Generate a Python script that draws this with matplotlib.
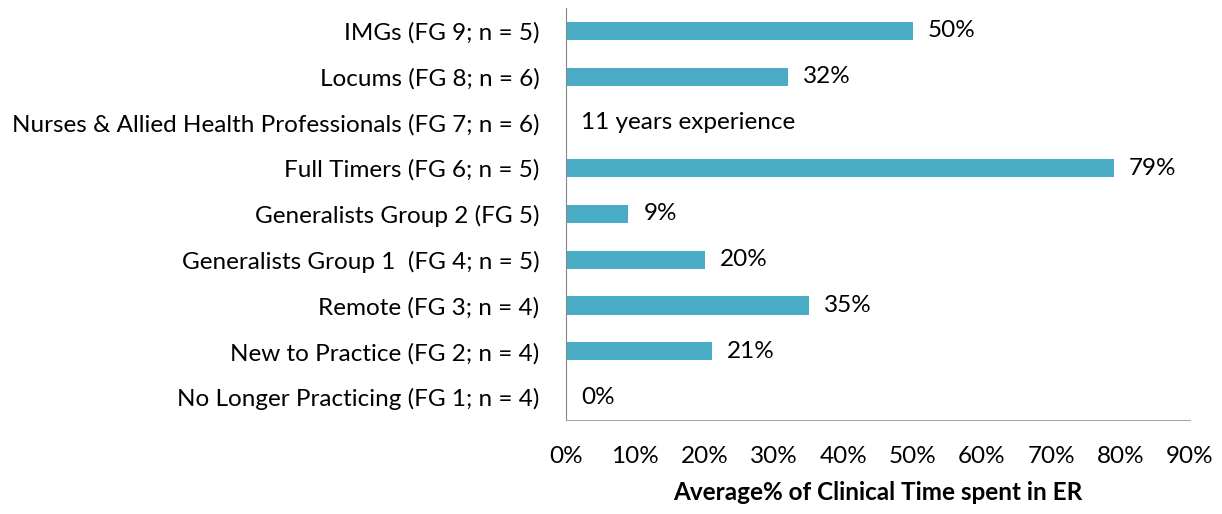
import matplotlib
matplotlib.use("Agg")
import matplotlib.pyplot as plt
from matplotlib.ticker import FuncFormatter

categories = [
    "No Longer Practicing (FG 1; n = 4)",
    "New to Practice (FG 2; n = 4)",
    "Remote (FG 3; n = 4)",
    "Generalists Group 1  (FG 4; n = 5)",
    "Generalists Group 2 (FG 5)",
    "Full Timers (FG 6; n = 5)",
    "Nurses & Allied Health Professionals (FG 7; n = 6)",
    "Locums (FG 8; n = 6)",
    "IMGs (FG 9; n = 5)",
]
values = [0, 21, 35, 20, 9, 79, 0, 32, 50]
value_labels = ["0%", "21%", "35%", "20%", "9%", "79%", "11 years experience", "32%", "50%"]
xticks = [0, 10, 20, 30, 40, 50, 60, 70, 80, 90]
xlabel = "Average% of Clinical Time spent in ER"

plt.rcParams['font.family'] = ['Lato', 'DejaVu Sans']
FS = 17.5

fig = plt.figure(figsize=(12.22, 5.14), dpi=100)
ax = fig.add_axes([566/1222, 1 - 420/514, (1190-566)/1222, (420-8)/514])

y = list(range(len(categories)))
ax.barh(y, values, height=0.4, color="#4BACC6")
for yi, v, lab in zip(y, values, value_labels):
    ax.annotate(lab, (v, yi), xytext=(15, 0), textcoords="offset pixels",
                va="center", ha="left", fontsize=FS, color="black")

ax.set_xlim(0, 90)
ax.set_ylim(-0.5, len(categories) - 0.5)
ax.set_yticks(y)
ax.set_yticklabels(categories, fontsize=FS)
ax.set_xticks(xticks)
ax.xaxis.set_major_formatter(FuncFormatter(lambda v, p: f"{int(v)}%"))
ax.tick_params(axis="x", labelsize=FS, length=0, pad=19)
ax.tick_params(axis="y", length=0, pad=19)
ax.set_xlabel(xlabel, fontsize=FS, fontweight="bold", labelpad=10)

for s in ["top", "right"]:
    ax.spines[s].set_visible(False)
ax.spines["left"].set_color("#868686")
ax.spines["bottom"].set_color("#A6A6A6")

fig.savefig("out.png", dpi=100)
